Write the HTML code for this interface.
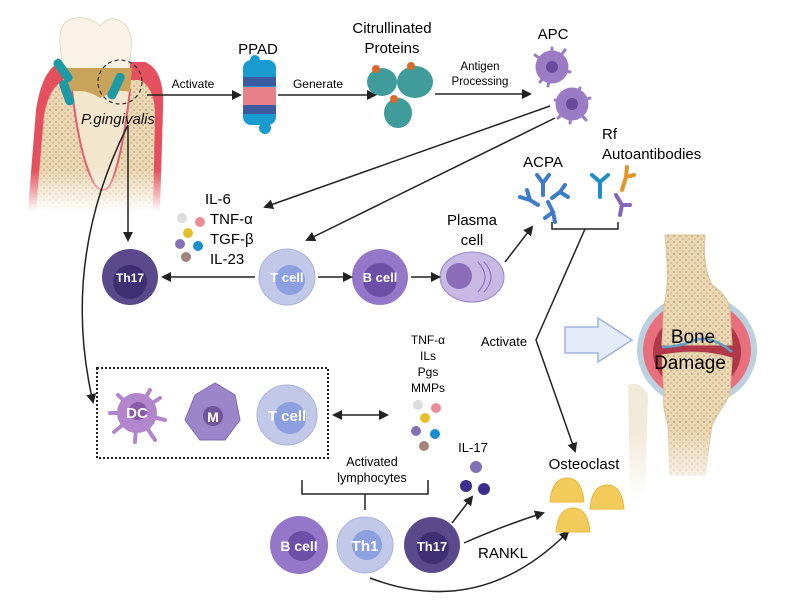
<!DOCTYPE html>
<html><head><meta charset="utf-8"><style>
body{margin:0;background:#fff}
svg{display:block;font-family:"Liberation Sans",sans-serif}
</style></head><body>
<svg width="787" height="615" viewBox="0 0 787 615" xmlns="http://www.w3.org/2000/svg">
<defs>
<marker id="a" markerWidth="10" markerHeight="10" refX="8" refY="5" orient="auto" markerUnits="userSpaceOnUse"><path d="M0,0 L10,5 L0,10 z" fill="#222"/></marker>
<marker id="as" markerWidth="10" markerHeight="10" refX="2" refY="5" orient="auto" markerUnits="userSpaceOnUse"><path d="M10,0 L0,5 L10,10 z" fill="#222"/></marker>
<pattern id="dots" width="6" height="6" patternUnits="userSpaceOnUse"><rect width="6" height="6" fill="#ead7b4"/><circle cx="2" cy="2" r="1" fill="#c9a77a"/><circle cx="5" cy="5" r="0.8" fill="#c9a77a"/></pattern>
<linearGradient id="fade" x1="0" y1="0" x2="0" y2="1"><stop offset="0" stop-color="#fff" stop-opacity="0"/><stop offset="1" stop-color="#fff" stop-opacity="1"/></linearGradient>
</defs>
<!-- tooth -->
<g>
<path d="M28,210 L36,110 Q42,70 60,62 L145,62 Q165,70 163,110 L160,210 z" fill="#e4505e"/>
<path d="M36,210 L44,115 Q50,85 65,80 L140,80 Q155,88 155,115 L153,210 z" fill="url(#dots)"/>
<path d="M72,90 Q80,160 95,185 Q103,195 110,185 Q122,160 130,90 z" fill="#f2e6cc" stroke="#e06070" stroke-width="2"/>
<path d="M60,45 Q58,20 75,18 Q88,16 100,26 Q110,14 122,22 Q135,30 130,60 L128,90 L65,90 z" fill="#f8f3e6" stroke="#e6dcc4"/>
<path d="M65,68 L132,68 L130,92 Q118,88 100,98 Q85,88 67,92 z" fill="#c9a35a"/>
<rect x="0" y="170" width="180" height="42" fill="url(#fade)"/>
<rect x="58" y="58" width="9" height="26" rx="4" fill="#1d9aa6" transform="rotate(-35 62 70)"/>
<rect x="62" y="80" width="9" height="26" rx="4" fill="#1d9aa6" transform="rotate(-20 66 92)"/>
<rect x="112" y="72" width="9" height="28" rx="4" fill="#1d9aa6" transform="rotate(25 116 85)"/>
<circle cx="120" cy="82" r="22" fill="none" stroke="#333" stroke-dasharray="4,3" stroke-width="1.2"/>
<text x="118" y="124" font-size="15" font-style="italic" text-anchor="middle" fill="#111">P.gingivalis</text>
</g>
<!-- top row -->
<line x1="147" y1="95" x2="240" y2="95" stroke="#222" stroke-width="1.5" marker-end="url(#a)"/>
<text x="193" y="88" font-size="12" text-anchor="middle">Activate</text>
<text x="258" y="54" font-size="15" text-anchor="middle">PPAD</text>
<g>
<rect x="243" y="60" width="33" height="65" rx="8" fill="#1a9bd0"/>
<rect x="243" y="77" width="33" height="9" fill="#3c5aa0"/>
<rect x="243" y="87" width="33" height="18" fill="#e8808a"/>
<rect x="243" y="105" width="33" height="9" fill="#3c5aa0"/>
<circle cx="255" cy="60" r="5" fill="#1a9bd0"/><circle cx="265" cy="128" r="6" fill="#1a9bd0"/>
</g>
<line x1="278" y1="95" x2="375" y2="95" stroke="#222" stroke-width="1.5" marker-end="url(#a)"/>
<text x="318" y="88" font-size="12" text-anchor="middle">Generate</text>
<text x="392" y="33" font-size="15" text-anchor="middle">Citrullinated</text>
<text x="392" y="53" font-size="15" text-anchor="middle">Proteins</text>
<g fill="#3f9c9a">
<ellipse cx="382" cy="82" rx="15" ry="14"/><ellipse cx="415" cy="82" rx="18" ry="16"/><ellipse cx="398" cy="113" rx="14" ry="15"/>
</g>
<g fill="#d86a2a"><circle cx="376" cy="69" r="4"/><circle cx="411" cy="66" r="4"/><circle cx="394" cy="99" r="4"/></g>
<text x="480" y="70" font-size="11.5" text-anchor="middle">Antigen</text>
<text x="480" y="85" font-size="11.5" text-anchor="middle">Processing</text>
<line x1="435" y1="94" x2="530" y2="94" stroke="#222" stroke-width="1.5" marker-end="url(#a)"/>
<text x="553" y="39" font-size="15" text-anchor="middle">APC</text>
<g fill="#9b7cc4" stroke="#9b7cc4" stroke-width="3" stroke-linecap="round">
<circle cx="552" cy="67" r="15"/><circle cx="572" cy="104" r="15"/>
<path d="M552,67 L535,55 M552,67 L540,82 M552,67 L565,50 M552,67 L570,72 M552,67 L548,86 M552,67 L552,48 M572,104 L555,100 M572,104 L590,98 M572,104 L586,120 M572,104 L570,123 M572,104 L580,88 M572,104 L558,118"/>
</g>
<circle cx="552" cy="67" r="6" fill="#6a4a9a"/><circle cx="572" cy="104" r="6" fill="#6a4a9a"/>
<line x1="550" y1="106" x2="265" y2="207" stroke="#222" stroke-width="1.5" marker-end="url(#a)"/>
<line x1="555" y1="118" x2="307" y2="240" stroke="#222" stroke-width="1.5" marker-end="url(#a)"/>
<!-- cytokines -->
<g font-size="15"><text x="205" y="204">IL-6</text><text x="210" y="224">TNF-α</text><text x="210" y="244">TGF-β</text><text x="210" y="264">IL-23</text></g>
<circle cx="182" cy="218" r="5" fill="#ddd"/><circle cx="200" cy="222" r="5" fill="#ec8d96"/><circle cx="188" cy="233" r="5" fill="#e6c02c"/><circle cx="180" cy="244" r="5" fill="#8470b4"/><circle cx="198" cy="246" r="5" fill="#1a8fd0"/><circle cx="186" cy="257" r="5" fill="#a4847a"/>
<!-- cell row -->
<line x1="128" y1="125" x2="128" y2="240" stroke="#222" stroke-width="1.5" marker-end="url(#a)"/>
<path d="M128,125 Q60,260 93,402" fill="none" stroke="#222" stroke-width="1.5" marker-end="url(#a)"/>
<circle cx="130" cy="277" r="28" fill="#5a4a8c"/><circle cx="130" cy="282" r="17" fill="#3d2f72"/><text x="130" y="282" font-size="12" font-weight="bold" fill="#fff" text-anchor="middle">Th17</text>
<circle cx="287" cy="277" r="28" fill="#c2c8e8" stroke="#aab3de"/><circle cx="290" cy="280" r="15" fill="#8c9fe0"/><text x="287" y="282" font-size="13" font-weight="bold" fill="#fff" text-anchor="middle">T cell</text>
<circle cx="380" cy="277" r="28" fill="#9577c9"/><circle cx="380" cy="280" r="17" fill="#6c4fa6"/><text x="380" y="282" font-size="13" font-weight="bold" fill="#fff" text-anchor="middle">B cell</text>
<ellipse cx="472" cy="277" rx="32" ry="25" fill="#c7b9e4" stroke="#9b85c9"/><circle cx="459" cy="276" r="13" fill="#8a6cb8"/><path d="M478,262 Q492,277 478,292 M484,262 Q498,277 484,292" fill="none" stroke="#8a6cb8"/>
<line x1="255" y1="277" x2="163" y2="277" stroke="#222" stroke-width="1.5" marker-end="url(#a)"/>
<line x1="318" y1="277" x2="351" y2="277" stroke="#222" stroke-width="1.5" marker-end="url(#a)"/>
<line x1="411" y1="277" x2="439" y2="277" stroke="#222" stroke-width="1.5" marker-end="url(#a)"/>
<line x1="505" y1="262" x2="532" y2="227" stroke="#222" stroke-width="1.5" marker-end="url(#a)"/>
<text x="472" y="225" font-size="15" text-anchor="middle">Plasma</text>
<text x="472" y="245" font-size="15" text-anchor="middle">cell</text>
<!-- antibodies -->
<text x="543" y="167" font-size="15" text-anchor="middle">ACPA</text>
<text x="602" y="139" font-size="15">Rf</text>
<text x="602" y="159" font-size="15">Autoantibodies</text>
<g stroke-width="4" stroke-linecap="round" fill="none">
<path d="M537,175 L543,183 L549,175 M543,183 L543,195" stroke="#3e7cc8"/>
<path d="M520,197 L530,200 L527,190 M530,200 L538,205" stroke="#3e7cc8"/>
<path d="M565,185 L560,192 L568,197 M560,192 L552,198" stroke="#3e7cc8"/>
<path d="M548,202 L553,212 L545,218 M553,212 L555,222" stroke="#3e7cc8"/>
<path d="M592,175 L600,182 L608,175 M600,182 L600,197" stroke="#1d8ec8"/>
<path d="M627,167 L626,177 L634,175 M626,177 L622,190" stroke="#e2952a"/>
<path d="M616,195 L622,205 L630,205 M622,205 L620,215" stroke="#8566b8"/>
</g>
<path d="M552,222 V229 H618 V222" fill="none" stroke="#222" stroke-width="1.5"/>
<path d="M585,229 L536,340 L575,451" fill="none" stroke="#222" stroke-width="1.5" marker-end="url(#a)"/>
<text x="504" y="346" font-size="13" text-anchor="middle">Activate</text>
<!-- big arrow -->
<path d="M565,327 H598 V318 L632,340 L598,362 V353 H565 z" fill="#e3ecf8" stroke="#9fb4de" stroke-width="1.5"/>
<!-- joint -->
<g>
<path d="M628,385 Q640,380 648,395 L645,500 H630 z" fill="#f2ead8"/>
<ellipse cx="697" cy="350" rx="60" ry="56" fill="#bcd0e0"/>
<ellipse cx="697" cy="350" rx="54" ry="50" fill="#e8707c"/>
<ellipse cx="697" cy="352" rx="44" ry="40" fill="#b03848"/>
<path d="M665,235 H705 Q702,265 712,285 Q728,295 730,310 L732,345 L662,345 L664,305 Q670,285 665,235 z" fill="url(#dots)" stroke="#d8c49a"/>
<path d="M662,355 Q700,348 732,358 L730,395 Q720,410 712,425 L705,475 H670 L668,425 Q662,405 664,395 z" fill="url(#dots)" stroke="#d8c49a"/>
<path d="M662,347 Q680,347 695,340 Q712,335 732,352" fill="none" stroke="#5ba0c8" stroke-width="2.5"/>
<rect x="620" y="430" width="160" height="72" fill="url(#fade)"/>
</g>
<text x="693" y="343" font-size="19" text-anchor="middle">Bone</text>
<text x="690" y="369" font-size="19" text-anchor="middle">Damage</text>
<!-- lower box -->
<rect x="97" y="368" width="231" height="90" fill="none" stroke="#222" stroke-width="2" stroke-dasharray="2,2"/>
<g fill="#b286cc" stroke="#b286cc" stroke-width="4" stroke-linecap="round">
<circle cx="137" cy="413" r="18"/>
<path d="M137,413 L118,395 M137,413 L150,390 M137,413 L160,398 M137,413 L165,420 M137,413 L155,440 M137,413 L135,442 M137,413 L114,432 M137,413 L110,413"/>
</g>
<circle cx="138" cy="411" r="9" fill="#8a5aa8"/><text x="137" y="418" font-size="15" font-weight="bold" fill="#fff" text-anchor="middle">DC</text>
<path d="M195,395 L215,383 L235,395 L240,420 L225,440 L200,440 L185,420 z" fill="#9a86c8" stroke="#7f6ab4"/>
<circle cx="213" cy="416" r="10" fill="#6f559c"/><text x="213" y="422" font-size="14" font-weight="bold" fill="#fff" text-anchor="middle">M</text>
<circle cx="287" cy="415" r="30" fill="#c2c8e8" stroke="#aab3de"/><circle cx="290" cy="418" r="16" fill="#8c9fe0"/><text x="287" y="421" font-size="15" font-weight="bold" fill="#fff" text-anchor="middle">T cell</text>
<line x1="334" y1="415" x2="387" y2="415" stroke="#222" stroke-width="1.5" marker-end="url(#a)" marker-start="url(#as)"/>
<g font-size="12" text-anchor="middle"><text x="428" y="344">TNF-α</text><text x="428" y="360">ILs</text><text x="428" y="376">Pgs</text><text x="428" y="392">MMPs</text></g>
<circle cx="418" cy="405" r="5" fill="#ddd"/><circle cx="436" cy="408" r="5" fill="#ec8d96"/><circle cx="425" cy="418" r="5" fill="#e6c02c"/><circle cx="416" cy="431" r="5" fill="#8470b4"/><circle cx="435" cy="434" r="5" fill="#1a8fd0"/><circle cx="424" cy="446" r="5" fill="#a4847a"/>
<text x="473" y="452" font-size="13" text-anchor="middle">IL-17</text>
<circle cx="476" cy="467" r="6" fill="#8470b4"/><circle cx="466" cy="486" r="6" fill="#3b2e8c"/><circle cx="484" cy="489" r="6" fill="#3b2e8c"/>
<text x="372" y="466" font-size="12.5" text-anchor="middle">Activated</text>
<text x="372" y="482" font-size="12.5" text-anchor="middle">lymphocytes</text>
<path d="M302,480 V494 H428 V480 M365,494 V510" fill="none" stroke="#222" stroke-width="1.5"/>
<circle cx="299" cy="545" r="29" fill="#9577c9"/><circle cx="302" cy="546" r="15" fill="#6c4fa6"/><text x="299" y="551" font-size="14" font-weight="bold" fill="#fff" text-anchor="middle">B cell</text>
<circle cx="365" cy="545" r="28" fill="#c2c8e8" stroke="#aab3de"/><circle cx="367" cy="545" r="15" fill="#8c9fe0"/><text x="365" y="551" font-size="15" font-weight="bold" fill="#fff" text-anchor="middle">Th1</text>
<circle cx="432" cy="545" r="28" fill="#5a4a8c"/><circle cx="433" cy="548" r="16" fill="#3d2f72"/><text x="432" y="551" font-size="13" font-weight="bold" fill="#fff" text-anchor="middle">Th17</text>
<line x1="452" y1="523" x2="472" y2="497" stroke="#222" stroke-width="1.5" marker-end="url(#a)"/>
<path d="M464,543 Q505,525 543,513" fill="none" stroke="#222" stroke-width="1.5" marker-end="url(#a)"/>
<path d="M370,578 Q480,620 568,532" fill="none" stroke="#222" stroke-width="1.5" marker-end="url(#a)"/>
<text x="503" y="558" font-size="15" text-anchor="middle">RANKL</text>
<text x="584" y="469" font-size="15" text-anchor="middle">Osteoclast</text>
<g fill="#f2cb5a" stroke="#e8b840"><path d="M550,502 Q552,478 567,478 Q582,478 584,502 z"/><path d="M590,509 Q592,485 607,485 Q622,485 624,509 z"/><path d="M556,532 Q558,508 573,508 Q588,508 590,532 z"/></g>
</svg>
</body></html>
